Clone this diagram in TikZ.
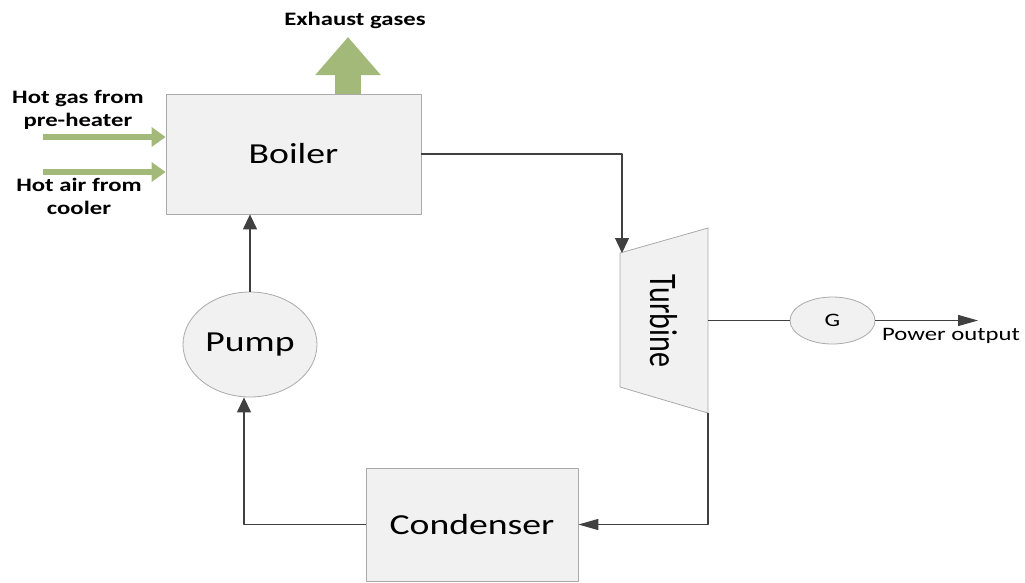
\documentclass[tikz,border=0pt]{standalone}
\usepackage{fontspec}
\setmainfont[FakeStretch=1.3]{Carlito}
\newfontfamily\plainfont{Carlito}
\usetikzlibrary{arrows.meta,shapes.geometric}
\definecolor{leaf}{RGB}{163,185,122}
\definecolor{pipe}{RGB}{64,64,64}
\definecolor{rim}{RGB}{170,170,170}
\definecolor{shell}{RGB}{241,241,241}
\begin{document}
\begin{tikzpicture}[x=1pt,y=-1pt,line join=round,
unit/.style={draw=rim,fill=shell,line width=0.8pt,inner sep=0pt,font=\fontsize{29}{34}\selectfont},
tag/.style={font=\bfseries\fontsize{19}{23}\selectfont,align=center,inner sep=0pt},
duct/.style={draw=pipe,line width=1.3pt},
flow/.style={duct,-{Triangle[length=15pt,width=14pt]}},
hflow/.style={duct,-{Triangle[length=20pt,width=11pt]}},
feed/.style={draw=leaf,line width=5.5pt,-{Triangle[length=14pt,width=19pt]}}]
\useasboundingbox(0,0)rectangle(1025,582);
\node[unit,minimum width=255,minimum height=120](boiler)at(293.5,154){Boiler};
\node[unit,ellipse,minimum width=134,minimum height=105](pump)at(250,344.5){Pump};
\node[unit,minimum width=212,minimum height=113](cond)at(472,524.5){Condenser};
\node[unit,ellipse,minimum width=85,minimum height=47,font=\fontsize{19}{23}\selectfont](gen)at(832.5,320.5){G};
\draw[unit](620,253)coordinate(tin)--(708,228)--(708,413)coordinate(tout)--(620,387)--cycle;
\node[rotate=-90,inner sep=0pt](turbine)at(664,321){\scalebox{1}[1.3]{\plainfont\fontsize{30}{34}\selectfont Turbine}};
\coordinate(shaft)at(708,320.5);
\coordinate(pwr)at(978,320.5);
\coordinate(vent)at(348,37);
\node[tag](exhaust)at(355,20){Exhaust gases};
\node[tag](hotgas)at(78,110){Hot gas from\\pre-heater};
\node[tag](hotair)at(79,196){Hot air from\\cooler};
\node[inner sep=0pt,font=\fontsize{19}{23}\selectfont](power)at(951,336){Power output};
\draw[draw=leaf,line width=26pt,-{Triangle[length=38pt,width=63pt]}](boiler.north-|vent)--(vent);
\draw[feed](43,137)--([yshift=17pt]boiler.west);
\draw[feed](43,172)--([yshift=-18pt]boiler.west);
\draw[flow](boiler.east)-|([xshift=2pt]tin);
\draw[duct](shaft)--(gen.west);
\draw[hflow](gen.east)--(pwr);
\draw[hflow](tout)|-(cond.east);
\draw[flow](cond.west)-|([xshift=-6pt]pump.south);
\draw[flow](pump.north)--(boiler.south-|pump.north);
\end{tikzpicture}
\end{document}
